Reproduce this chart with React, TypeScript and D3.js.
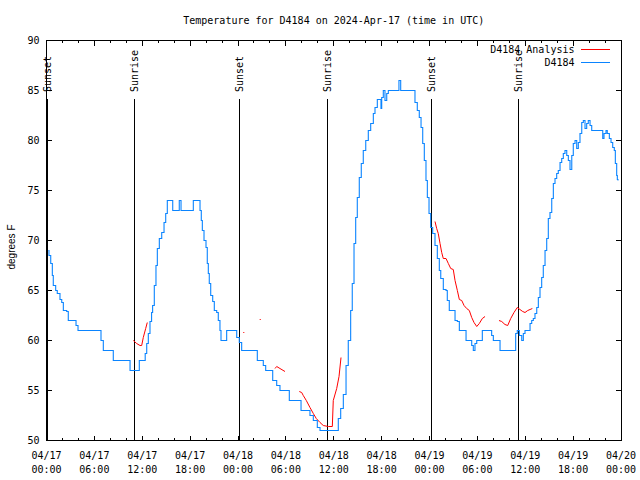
import React from "react";
import * as d3 from "d3";

const TITLE = "Temperature for D4184 on 2024-Apr-17 (time in UTC)";
const Y_LABEL = "degrees F";
const START_MS = Date.UTC(2024, 3, 17, 0, 0);
const END_MS = Date.UTC(2024, 3, 20, 0, 0);
const Y_TICKS = [50, 55, 60, 65, 70, 75, 80, 85, 90];
const SUNSET_HOURS = [0.02, 24.07, 48.16];
const SUNRISE_HOURS = [11.02, 35.1, 59.03];
const SERIES_NAMES = ["D4184 Analysis", "D4184"];

// observed D4184 temperatures: [hours since 04/17 00:00 UTC, degF]
const OBSERVED: [number, number][] = [
  [0.23, 69.0], [0.31, 68.5], [0.53, 67.7], [0.73, 66.5], [0.85, 65.5], [1.15, 65.0],
  [1.35, 64.7], [1.69, 64.1], [1.91, 63.8], [2.11, 63.0], [2.53, 62.9], [2.73, 62.0],
  [3.7, 61.5], [3.95, 61.0], [6.83, 60.0], [7.12, 59.0], [8.37, 58.0], [10.47, 57.0],
  [11.63, 58.0], [12.37, 58.7], [12.56, 59.7], [12.76, 60.7], [12.97, 61.9], [13.17, 62.8],
  [13.3, 63.5], [13.51, 65.5], [13.72, 67.5], [13.89, 69.2], [14.14, 70.2], [14.44, 70.8],
  [14.73, 71.8], [14.94, 72.7], [15.14, 74.0], [15.82, 73.0], [16.64, 74.0], [16.86, 73.0],
  [18.4, 74.0], [19.24, 73.0], [19.4, 72.0], [19.53, 71.0], [19.74, 70.0], [19.99, 69.3],
  [20.15, 67.7], [20.28, 66.7], [20.4, 65.7], [20.58, 64.5], [20.83, 63.9], [21.03, 63.0],
  [21.33, 62.8], [21.53, 62.0], [21.74, 61.0], [21.87, 60.0], [22.58, 61.0], [23.84, 60.3],
  [24.16, 59.8], [24.46, 59.0], [26.42, 58.0], [27.17, 57.5], [27.47, 57.0], [28.35, 56.0],
  [28.85, 55.5], [29.26, 55.0], [30.43, 54.0], [31.9, 53.0], [33.02, 52.5], [33.44, 52.0],
  [33.94, 51.3], [34.28, 51.0], [36.57, 52.2], [36.87, 53.2], [37.2, 54.6], [37.54, 57.5],
  [37.82, 60.0], [38.12, 63.0], [38.32, 65.7], [38.54, 69.7], [38.75, 72.3], [38.95, 74.3],
  [39.2, 76.3], [39.45, 77.7], [39.7, 79.0], [40.01, 80.0], [40.33, 81.0], [40.63, 81.7],
  [40.96, 82.7], [41.17, 83.3], [41.46, 84.1], [41.92, 83.2], [42.01, 84.3], [42.21, 85.0],
  [42.42, 84.0], [42.64, 84.7], [42.84, 85.0], [44.17, 86.0], [44.39, 85.0], [46.18, 83.8],
  [46.47, 83.0], [46.72, 82.3], [46.94, 81.3], [47.15, 79.7], [47.35, 78.0], [47.56, 76.0],
  [47.73, 74.3], [47.94, 72.7], [48.15, 71.3], [48.4, 70.7], [48.69, 69.5], [48.98, 68.2],
  [49.23, 67.0], [49.41, 66.2], [49.73, 65.1], [50.07, 65.0], [50.23, 64.0], [50.48, 63.0],
  [51.2, 62.0], [51.49, 61.9], [51.74, 61.0], [52.58, 60.0], [53.29, 59.5], [53.49, 59.0],
  [53.7, 59.7], [53.92, 60.0], [54.62, 61.0], [55.79, 60.5], [56.0, 60.0], [56.84, 59.0],
  [58.8, 60.7], [59.0, 61.0], [59.26, 60.5], [59.56, 60.0], [59.76, 60.7], [59.97, 61.0],
  [60.6, 61.7], [60.81, 62.0], [61.01, 62.2], [61.22, 62.7], [61.44, 63.3], [61.64, 64.3],
  [61.85, 65.3], [62.06, 66.3], [62.26, 67.5], [62.48, 69.0], [62.69, 70.2], [62.89, 72.2],
  [63.1, 72.8], [63.32, 74.2], [63.52, 75.7], [63.73, 76.2], [63.94, 76.7], [64.14, 77.0],
  [64.36, 77.8], [64.57, 78.2], [64.77, 78.7], [64.98, 79.0], [65.2, 78.5], [65.4, 78.0],
  [65.61, 77.1], [65.83, 78.5], [66.02, 79.7], [66.24, 80.0], [66.45, 79.2], [66.65, 79.8],
  [66.86, 80.7], [67.08, 81.8], [67.28, 82.0], [67.49, 81.2], [67.7, 81.7], [67.9, 82.0],
  [68.12, 81.5], [68.33, 81.0], [69.71, 80.2], [69.87, 80.7], [70.12, 81.0], [70.28, 80.7],
  [70.54, 80.2], [70.75, 79.8], [70.96, 79.3], [71.16, 79.0], [71.29, 77.7], [71.46, 76.5],
  [71.54, 76.1], [71.62, 76.0],
];

// analysis segments (gaps between them)
const ANALYSIS_A: [number, number][] = [
  [10.88, 60.0], [11.3, 59.7], [11.72, 59.5], [11.93, 59.5], [12.13, 60.3], [12.43, 61.2], [12.63, 61.8],
];
const ANALYSIS_B: [number, number][] = [[24.66, 60.8], [24.79, 60.8]];
const ANALYSIS_C: [number, number][] = [[26.72, 62.1], [26.85, 62.1]];
const ANALYSIS_D: [number, number][] = [[28.64, 57.2], [28.85, 57.4], [29.26, 57.2], [29.89, 56.9]];
const ANALYSIS_E: [number, number][] = [
  [31.68, 54.9], [31.98, 54.8], [32.18, 54.5], [32.56, 54.0], [33.02, 53.3], [33.44, 52.7],
  [33.81, 52.2], [34.28, 51.8], [34.69, 51.5], [35.32, 51.4], [35.82, 51.4], [35.94, 54.0],
  [36.37, 55.2], [36.66, 56.4], [36.91, 58.3],
];
const ANALYSIS_F: [number, number][] = [
  [48.69, 71.9], [48.9, 71.2], [49.1, 70.7], [49.32, 69.7], [49.53, 68.8], [49.73, 68.2],
  [50.07, 68.2], [50.36, 67.7], [50.66, 67.2], [50.98, 67.1], [51.2, 66.0], [51.49, 65.0],
  [51.74, 64.1], [52.04, 64.0], [52.33, 63.5], [52.66, 63.2], [52.99, 63.0], [53.29, 62.3],
  [53.58, 61.8], [53.92, 61.4], [54.24, 61.7], [54.62, 62.2], [54.96, 62.4],
];
const ANALYSIS_G: [number, number][] = [
  [56.71, 62.0], [57.05, 61.9], [57.46, 61.6], [57.8, 61.5], [58.18, 62.2], [58.59, 62.8],
  [59.0, 63.3], [59.34, 63.1], [59.68, 62.9], [59.97, 62.8], [60.31, 63.0], [60.6, 63.1],
  [60.89, 63.2],
];
const ANALYSIS_SEGMENTS = [ANALYSIS_A, ANALYSIS_B, ANALYSIS_C, ANALYSIS_D, ANALYSIS_E, ANALYSIS_F, ANALYSIS_G];

const W = 640;
const H = 480;
const LEFT = 46.5;
const RIGHT = 621;
const TOP = 40.5;
const BOTTOM = 440.5;
const MONO = "'DejaVu Sans Mono', 'Liberation Mono', monospace";
const BLUE = "#0a84ff";
const RED = "#ff0000";

const HOUR = 3600 * 1000;
const toDate = (h: number) => new Date(START_MS + h * HOUR);

export default function App() {
  const x = d3.scaleUtc().domain([new Date(START_MS), new Date(END_MS)]).range([LEFT, RIGHT]);
  const y = d3.scaleLinear().domain([50, 90]).range([BOTTOM, TOP]);

  const majorTicks = x.ticks(d3.utcHour.every(6)!);
  const minorTicks = x.ticks(d3.utcHour.every(2)!).filter((d) => d.getUTCHours() % 6 !== 0);
  const fmtDay = d3.utcFormat("%m/%d");
  const fmtTime = d3.utcFormat("%H:%M");

  const obsLine = d3
    .line<[number, number]>()
    .x((d) => x(toDate(d[0])))
    .y((d) => y(d[1]))
    .curve(d3.curveStepAfter);
  const anLine = d3
    .line<[number, number]>()
    .x((d) => x(toDate(d[0])))
    .y((d) => y(d[1]));

  const sunEvents = [
    ...SUNSET_HOURS.map((h) => ({ h, label: "Sunset" })),
    ...SUNRISE_HOURS.map((h) => ({ h, label: "Sunrise" })),
  ];

  return (
    <svg
      width={W}
      height={H}
      style={{ position: "absolute", left: 0, top: 0, background: "#fff" }}
      fontFamily={MONO}
      fontSize={10}
    >
      <rect x={0} y={0} width={W} height={H} fill="#fff" />
      <text x={(LEFT + RIGHT) / 2} y={23.5} textAnchor="middle" fill="#000">
        {TITLE}
      </text>

      {/* sunrise / sunset markers */}
      {sunEvents.map((e, i) => {
        const sx = Math.round(x(toDate(e.h))) + 0.5;
        return (
          <g key={"sun" + i}>
            <line x1={sx} x2={sx} y1={99} y2={BOTTOM} stroke="#000" strokeWidth={1} shapeRendering="crispEdges" />
            <text
              transform={`translate(${sx},92) rotate(-90)`}
              dy="0.35em"
              textAnchor="start"
              fill="#000"
            >
              {e.label}
            </text>
          </g>
        );
      })}

      {/* data */}
      {ANALYSIS_SEGMENTS.map((seg, i) => (
        <path key={"an" + i} d={anLine(seg) || ""} fill="none" stroke={RED} strokeWidth={1} />
      ))}
      <path d={obsLine(OBSERVED) || ""} fill="none" stroke={BLUE} strokeWidth={1.1} />

      {/* frame */}
      <rect
        x={LEFT}
        y={TOP}
        width={RIGHT - LEFT}
        height={BOTTOM - TOP}
        fill="none"
        stroke="#000"
        strokeWidth={1}
        shapeRendering="crispEdges"
      />

      {/* x ticks */}
      {majorTicks.map((t, i) => {
        const tx = x(t);
        return (
          <g key={"xt" + i}>
            <line x1={tx} x2={tx} y1={BOTTOM} y2={BOTTOM - 5} stroke="#000" shapeRendering="crispEdges" />
            <line x1={tx} x2={tx} y1={TOP} y2={TOP + 5} stroke="#000" shapeRendering="crispEdges" />
            <text x={tx} y={459} textAnchor="middle" fill="#000">
              {fmtDay(t)}
            </text>
            <text x={tx} y={473} textAnchor="middle" fill="#000">
              {fmtTime(t)}
            </text>
          </g>
        );
      })}
      {minorTicks.map((t, i) => {
        const tx = x(t);
        return (
          <g key={"xm" + i}>
            <line x1={tx} x2={tx} y1={BOTTOM} y2={BOTTOM - 2.5} stroke="#000" shapeRendering="crispEdges" />
            <line x1={tx} x2={tx} y1={TOP} y2={TOP + 2.5} stroke="#000" shapeRendering="crispEdges" />
          </g>
        );
      })}

      {/* y ticks */}
      {Y_TICKS.map((v, i) => {
        const ty = y(v);
        return (
          <g key={"yt" + i}>
            <line x1={LEFT} x2={LEFT + 5} y1={ty} y2={ty} stroke="#000" shapeRendering="crispEdges" />
            <line x1={RIGHT} x2={RIGHT - 5} y1={ty} y2={ty} stroke="#000" shapeRendering="crispEdges" />
            <text x={39.5} y={ty} dy="0.35em" textAnchor="end" fill="#000">
              {v}
            </text>
          </g>
        );
      })}

      <text
        transform={`translate(11,247) rotate(-90)`}
        textAnchor="middle"
        dy="0.35em"
        fontFamily="'Liberation Sans', Arial, sans-serif"
        fontSize={10}
        fill="#000"
      >
        {Y_LABEL}
      </text>

      {/* legend */}
      <text x={574.5} y={49.5} dy="0.35em" textAnchor="end" fill="#000">
        {SERIES_NAMES[0]}
      </text>
      <line x1={581} x2={609.5} y1={49.5} y2={49.5} stroke={RED} shapeRendering="crispEdges" />
      <text x={574.5} y={62.5} dy="0.35em" textAnchor="end" fill="#000">
        {SERIES_NAMES[1]}
      </text>
      <line x1={581} x2={609.5} y1={62.5} y2={62.5} stroke={BLUE} strokeWidth={1.1} shapeRendering="crispEdges" />
    </svg>
  );
}
